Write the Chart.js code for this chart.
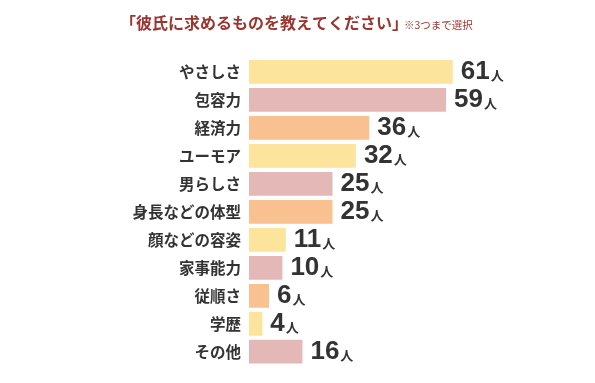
<!DOCTYPE html>
<html><head><meta charset="utf-8">
<script src="https://cdn.jsdelivr.net/npm/chart.js@4/dist/chart.umd.min.js"></script>
<style>html,body{margin:0;padding:0;background:#fff;}#wrap{width:595px;height:383px;position:relative;}</style>
</head><body><div id="wrap"><canvas id="c" width="595" height="383"></canvas></div>
<script>
const categories = ["やさしさ","包容力","経済力","ユーモア","男らしさ","身長などの体型","顔などの容姿","家事能力","従順さ","学歴","その他"];
const values = [61,59,36,32,25,25,11,10,6,4,16];
const unit = "人";
const titleMain = "「彼氏に求めるものを教えてください」";
const titleNote = "※3つまで選択";
const palette = ["#FDE49C","#E5B8B8","#F9C190"];
const barColors = categories.map((_, i) => palette[i % 3]);

const titlePlugin = {
  id: 'titleDraw',
  afterDraw(chart) {
    const ctx = chart.ctx;
    ctx.save();
    ctx.textBaseline = 'middle';
    ctx.textAlign = 'left';
    ctx.fillStyle = '#9A3530';
    ctx.font = 'bold 16px "Noto Sans CJK JP"';
    ctx.fillText(titleMain, 120, 23);
    ctx.font = '10.5px "Noto Sans CJK JP"';
    ctx.fillText(titleNote, 404, 25);
    ctx.restore();
  }
};

const labelPlugin = {
  id: 'valueLabels',
  afterDatasetsDraw(chart) {
    const ctx = chart.ctx;
    const meta = chart.getDatasetMeta(0);
    ctx.save();
    ctx.textBaseline = 'alphabetic';
    ctx.textAlign = 'left';
    ctx.fillStyle = '#333333';
    meta.data.forEach((bar, i) => {
      const s = String(values[i]);
      const x = bar.x + 8;
      const y = bar.y + 7;
      ctx.font = 'bold 26px "Liberation Sans"';
      ctx.fillText(s, x, y);
      const w = ctx.measureText(s).width;
      ctx.font = 'bold 13px "Noto Sans CJK JP"';
      ctx.fillText(unit, x + w + 1, y + 1);
    });
    ctx.restore();
  }
};

new Chart(document.getElementById('c'), {
  type: 'bar',
  data: {
    labels: categories,
    datasets: [{ data: values, backgroundColor: barColors, borderWidth: 0, barPercentage: 1, categoryPercentage: 0.85 }]
  },
  options: {
    indexAxis: 'y',
    responsive: false,
    animation: false,
    layout: { padding: { top: 58, bottom: 14, left: 0, right: 12 } },
    plugins: { legend: { display: false }, tooltip: { enabled: false }, title: { display: false } },
    scales: {
      x: { min: 0, max: 100, display: false },
      y: {
        grid: { display: false, drawTicks: false },
        border: { display: false },
        ticks: { color: '#333333', padding: 8, font: { family: '"Noto Sans CJK JP"', size: 15.5, weight: 'bold' } },
        afterFit(scale) { scale.width = 249; }
      }
    }
  },
  plugins: [titlePlugin, labelPlugin]
});
</script></body></html>
